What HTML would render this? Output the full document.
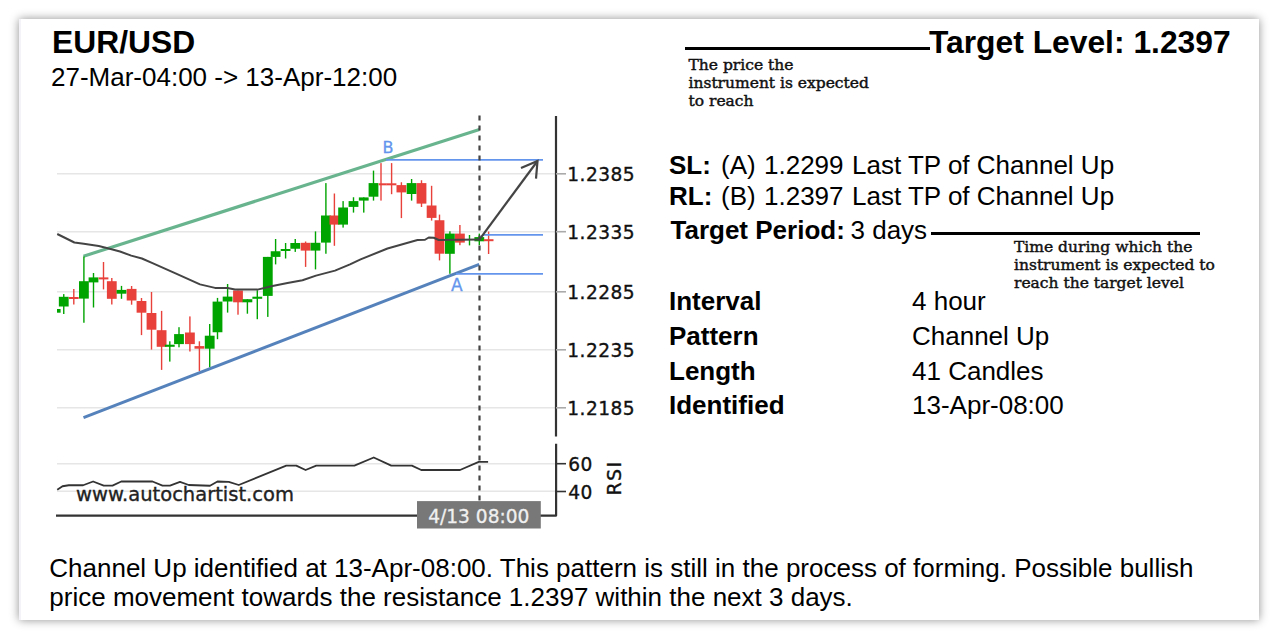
<!DOCTYPE html>
<html><head><meta charset="utf-8"><title>EUR/USD Channel Up</title>
<style>
html,body{margin:0;padding:0;background:#fff;}
body{width:1278px;height:639px;position:relative;overflow:hidden;font-family:"Liberation Sans",Arial,sans-serif;color:#000;}
.card{position:absolute;left:19px;top:19px;width:1240px;height:601px;background:#fff;box-shadow:0 0 9px rgba(0,0,0,0.44);border-left:2px solid #f3f3f8;box-sizing:border-box;}
.t{position:absolute;white-space:nowrap;line-height:1;}
.chart{position:absolute;left:0;top:0;}
.b{font-weight:bold;}
.note{position:absolute;white-space:nowrap;font-family:"DejaVu Serif",serif;font-size:15.5px;line-height:18px;color:#111;-webkit-text-stroke:0.45px #111;}
.hl{position:absolute;background:#000;height:3px;}
</style></head><body>
<div class="card"></div>
<svg class="chart" width="1278" height="639" viewBox="0 0 1278 639">
<g shape-rendering="auto">
<line x1="57" y1="173.8" x2="556" y2="173.8" stroke="#e6e6e6" stroke-width="1.6"/><line x1="57" y1="231.7" x2="556" y2="231.7" stroke="#e6e6e6" stroke-width="1.6"/><line x1="57" y1="291.8" x2="556" y2="291.8" stroke="#e6e6e6" stroke-width="1.6"/><line x1="57" y1="349.8" x2="556" y2="349.8" stroke="#e6e6e6" stroke-width="1.6"/><line x1="57" y1="407.8" x2="556" y2="407.8" stroke="#e6e6e6" stroke-width="1.6"/>
<line x1="57" y1="463.7" x2="556" y2="463.7" stroke="#e6e6e6" stroke-width="1.6"/>
<line x1="57" y1="491.3" x2="556" y2="491.3" stroke="#e6e6e6" stroke-width="1.6"/>
<line x1="83.5" y1="256.2" x2="479.4" y2="129.5" stroke="#68b48e" stroke-width="3.2"/>
<rect x="63.05" y="294.1" width="1.4" height="19.9" fill="#00a400"/><rect x="73.1" y="289" width="1.4" height="15.5" fill="#e8403a"/><rect x="83.2" y="256.4" width="1.4" height="66.35" fill="#00a400"/><rect x="92.8" y="273" width="1.4" height="34.5" fill="#00a400"/><rect x="102.8" y="262" width="1.4" height="27.4" fill="#e8403a"/><rect x="111.1" y="278" width="1.4" height="26.5" fill="#e8403a"/><rect x="120.8" y="285.9" width="1.4" height="12.9" fill="#00a400"/><rect x="130.9" y="286" width="1.4" height="18.7" fill="#e8403a"/><rect x="140.8" y="298" width="1.4" height="37.1" fill="#e8403a"/><rect x="150.8" y="292" width="1.4" height="57.6" fill="#e8403a"/><rect x="160.9" y="310.9" width="1.4" height="59" fill="#e8403a"/><rect x="169.1" y="341.3" width="1.4" height="20.3" fill="#00a400"/><rect x="178.3" y="327.2" width="1.4" height="20.1" fill="#00a400"/><rect x="189.2" y="316.4" width="1.4" height="35.1" fill="#e8403a"/><rect x="198.7" y="341.3" width="1.4" height="29.7" fill="#e8403a"/><rect x="209" y="324" width="1.4" height="43.4" fill="#00a400"/><rect x="216.8" y="297.9" width="1.4" height="41.3" fill="#00a400"/><rect x="226.9" y="284" width="1.4" height="28.6" fill="#00a400"/><rect x="237.3" y="290.5" width="1.4" height="24.2" fill="#e8403a"/><rect x="246.7" y="299.2" width="1.4" height="14.5" fill="#00a400"/><rect x="256.6" y="290.2" width="1.4" height="29" fill="#00a400"/><rect x="267.1" y="256.9" width="1.4" height="60" fill="#00a400"/><rect x="274.9" y="239" width="1.4" height="25.4" fill="#00a400"/><rect x="284.9" y="243" width="1.4" height="15.5" fill="#00a400"/><rect x="294.55" y="239" width="1.4" height="12.9" fill="#00a400"/><rect x="304.9" y="241.5" width="1.4" height="25.4" fill="#e8403a"/><rect x="314.8" y="231.4" width="1.4" height="38" fill="#00a400"/><rect x="325.2" y="183.1" width="1.4" height="70.65" fill="#00a400"/><rect x="333.7" y="193.5" width="1.4" height="52.3" fill="#e8403a"/><rect x="342.4" y="201.1" width="1.4" height="26.5" fill="#00a400"/><rect x="352.8" y="197.25" width="1.4" height="15.35" fill="#00a400"/><rect x="363.05" y="197.4" width="1.4" height="15.2" fill="#00a400"/><rect x="372.8" y="170.6" width="1.4" height="30" fill="#00a400"/><rect x="380.3" y="163.1" width="1.4" height="37.5" fill="#e8403a"/><rect x="390.9" y="163.1" width="1.4" height="31.1" fill="#e8403a"/><rect x="400.7" y="182.25" width="1.4" height="35.85" fill="#e8403a"/><rect x="410.9" y="179" width="1.4" height="21.6" fill="#00a400"/><rect x="420.8" y="180.25" width="1.4" height="26.75" fill="#e8403a"/><rect x="430.9" y="185.8" width="1.4" height="34.8" fill="#e8403a"/><rect x="438.8" y="214.6" width="1.4" height="45.8" fill="#e8403a"/><rect x="449.2" y="231.3" width="1.4" height="42.5" fill="#00a400"/><rect x="459.2" y="225" width="1.4" height="20.2" fill="#e8403a"/><rect x="468.8" y="235" width="1.4" height="10.4" fill="#00a400"/><rect x="478.6" y="233.6" width="1.4" height="11.5" fill="#00a400"/><rect x="487.9" y="231.5" width="1.4" height="22.5" fill="#e8403a"/>
<rect x="57" y="309" width="3.6" height="3.7" fill="#00a400"/><rect x="58.85" y="296.8" width="9.8" height="9.7" fill="#00a400"/><rect x="68.9" y="297" width="9.8" height="2" fill="#e8403a"/><rect x="79" y="281.2" width="9.8" height="17.4" fill="#00a400"/><rect x="88.6" y="277.4" width="9.8" height="5" fill="#00a400"/><rect x="98.6" y="277.4" width="9.8" height="2" fill="#e8403a"/><rect x="106.9" y="281.2" width="9.8" height="17.6" fill="#e8403a"/><rect x="116.6" y="289.9" width="9.8" height="3.8" fill="#00a400"/><rect x="126.7" y="288.9" width="9.8" height="11.6" fill="#e8403a"/><rect x="136.6" y="301" width="9.8" height="11.7" fill="#e8403a"/><rect x="146.6" y="313" width="9.8" height="16.7" fill="#e8403a"/><rect x="156.7" y="330.2" width="9.8" height="16.6" fill="#e8403a"/><rect x="164.9" y="344.7" width="9.8" height="2.1" fill="#00a400"/><rect x="174.1" y="334.1" width="9.8" height="10" fill="#00a400"/><rect x="185" y="332.5" width="9.8" height="11.6" fill="#e8403a"/><rect x="194.5" y="346.1" width="9.8" height="2.6" fill="#e8403a"/><rect x="204.8" y="335.7" width="9.8" height="13" fill="#00a400"/><rect x="212.6" y="301.6" width="9.8" height="30.65" fill="#00a400"/><rect x="222.7" y="296.6" width="9.8" height="4.9" fill="#00a400"/><rect x="233.1" y="290.5" width="9.8" height="11.8" fill="#e8403a"/><rect x="242.5" y="299.2" width="9.8" height="3.1" fill="#00a400"/><rect x="252.4" y="296.7" width="9.8" height="2.1" fill="#00a400"/><rect x="262.9" y="256.9" width="9.8" height="39" fill="#00a400"/><rect x="270.7" y="251.25" width="9.8" height="5.65" fill="#00a400"/><rect x="280.7" y="249" width="9.8" height="2" fill="#00a400"/><rect x="290.35" y="243" width="9.8" height="5.75" fill="#00a400"/><rect x="300.7" y="242.8" width="9.8" height="7.8" fill="#e8403a"/><rect x="310.6" y="242.8" width="9.8" height="7.8" fill="#00a400"/><rect x="321" y="215.5" width="9.8" height="27.1" fill="#00a400"/><rect x="329.5" y="215.5" width="9.8" height="9.1" fill="#e8403a"/><rect x="338.2" y="207.5" width="9.8" height="17.1" fill="#00a400"/><rect x="348.6" y="201.1" width="9.8" height="5.8" fill="#00a400"/><rect x="358.85" y="197.4" width="9.8" height="3.2" fill="#00a400"/><rect x="368.6" y="183.1" width="9.8" height="13.6" fill="#00a400"/><rect x="378.7" y="183.3" width="8" height="2" fill="#e8403a"/><rect x="386.5" y="183.3" width="9.9" height="2" fill="#e8403a"/><rect x="396.5" y="185.1" width="9.8" height="7.3" fill="#e8403a"/><rect x="406.7" y="183.1" width="9.8" height="10.9" fill="#00a400"/><rect x="416.6" y="183.1" width="9.8" height="20.5" fill="#e8403a"/><rect x="426.7" y="205.5" width="9.8" height="12.4" fill="#e8403a"/><rect x="434.6" y="220.25" width="9.8" height="33.45" fill="#e8403a"/><rect x="445" y="233.6" width="9.8" height="20.2" fill="#00a400"/><rect x="455" y="233.6" width="9.8" height="9" fill="#e8403a"/><rect x="474.4" y="237.1" width="9.8" height="4.2" fill="#00a400"/><rect x="483.7" y="239.2" width="9.8" height="2" fill="#e8403a"/>
<polyline points="57.25,234 74.4,242.5 83.75,243.75 98.75,246 108.75,248.5 120,251.5 131.25,255.6 141.9,258.5 152.5,263.1 175,273.1 200,284.4 215,287.9 227.5,287.9 235,289.6 257.5,289.6 272.5,286 287.5,283 302.5,280.25 316,275.6 335,270.6 350,264.4 360.6,259.4 387.5,248.5 417.5,240 425,239.75 428.75,237.5 433.75,237.75 438.75,240 480,239.6" fill="none" stroke="#444" stroke-width="2" stroke-linejoin="round"/>
<line x1="83.5" y1="417.6" x2="479.2" y2="264.4" stroke="#5682bc" stroke-width="3"/>
<line x1="386" y1="159.9" x2="543" y2="159.9" stroke="#6495ed" stroke-width="1.8"/>
<line x1="483" y1="234.9" x2="543" y2="234.9" stroke="#6495ed" stroke-width="1.8"/>
<line x1="456" y1="273.9" x2="543" y2="273.9" stroke="#6495ed" stroke-width="1.8"/>
<line x1="479.5" y1="115.6" x2="479.5" y2="501" stroke="#444" stroke-width="2.2" stroke-dasharray="4.8 5.2"/>
<polyline points="479.4,239.6 537.5,161" fill="none" stroke="#444" stroke-width="2.2"/>
<polyline points="521,168.1 537.5,161 536,178.7" fill="none" stroke="#444" stroke-width="2.2" stroke-linejoin="miter"/>
<polyline points="57.25,489.75 62.5,486.25 68.75,485.25 83.1,485.25 93.1,481.5 103.75,485.6 112.5,485.6 121.25,481.5 152.5,481.5 162.5,485.6 170,485.6 180,481.9 188.75,485 210,485.75 217.5,481.5 228.75,481.9 238.75,485 286.25,465.6 296.25,465.6 305.6,470 316.25,465.6 354.4,465.6 373.75,457.5 391.25,465.6 411.9,465.6 421.25,470 460,470 478.75,461.9 488.1,461.9" fill="none" stroke="#333" stroke-width="1.8" stroke-linejoin="round"/>
<line x1="556" y1="116" x2="556" y2="436.5" stroke="#333" stroke-width="2.2"/>
<polyline points="556.1,443.8 556.1,515.6 56,515.6" fill="none" stroke="#333" stroke-width="2.2" stroke-linejoin="round"/>
<line x1="556" y1="173.8" x2="566" y2="173.8" stroke="#aaaaaa" stroke-width="1.6"/><line x1="556" y1="231.7" x2="566" y2="231.7" stroke="#aaaaaa" stroke-width="1.6"/><line x1="556" y1="291.8" x2="566" y2="291.8" stroke="#aaaaaa" stroke-width="1.6"/><line x1="556" y1="349.8" x2="566" y2="349.8" stroke="#aaaaaa" stroke-width="1.6"/><line x1="556" y1="407.8" x2="566" y2="407.8" stroke="#aaaaaa" stroke-width="1.6"/>
<line x1="556.1" y1="463.7" x2="566" y2="463.7" stroke="#333" stroke-width="1.6"/>
<line x1="556.1" y1="491.5" x2="566" y2="491.5" stroke="#333" stroke-width="1.6"/>
<rect x="417" y="501.1" width="123.8" height="27.4" fill="#787878"/>
</g>
<g font-family="DejaVu Sans, sans-serif" fill="#111" stroke="#111" stroke-width="0.35">
<g font-size="18.6" letter-spacing="0.45"><text x="567.3" y="180.8">1.2385</text><text x="567.3" y="238.7">1.2335</text><text x="567.3" y="298.8">1.2285</text><text x="567.3" y="356.8">1.2235</text><text x="567.3" y="414.8">1.2185</text></g>
<text x="568.3" y="471.3" font-size="18.6" letter-spacing="0.4">60</text>
<text x="568.3" y="498.8" font-size="18.6" letter-spacing="0.4">40</text>
<text transform="translate(621,495.5) rotate(-90)" font-size="19" letter-spacing="1.4">RSI</text>
<text x="76" y="501" font-size="19.5" fill="#222" stroke="#222">www.autochartist.com</text>
<text x="428.2" y="523.1" font-size="18.6" fill="#f0f0f0" stroke="#f0f0f0" stroke-width="0.3">4/13 08:00</text>
<text x="382.5" y="153" font-size="16" fill="#6495ed" stroke="#6495ed" stroke-width="0.3">B</text>
<text x="451" y="290.7" font-size="17" fill="#6495ed" stroke="#6495ed" stroke-width="0.3">A</text>
</g>
</svg>
<div class="t b" id="sym" style="left:52px;top:27.1px;font-size:31.8px;">EUR/USD</div>
<div class="t" id="range" style="left:51px;top:63.5px;font-size:26px;">27-Mar-04:00 -&gt; 13-Apr-12:00</div>
<div class="hl" style="left:685px;top:47px;width:245px;"></div>
<div class="t b" id="tl" style="left:929px;top:26.5px;font-size:31.8px;">Target Level: 1.2397</div>
<div class="note" id="n1" style="left:688.5px;top:55.8px;">The price the<br>instrument is expected<br>to reach</div>
<div class="t b" style="left:669px;top:152px;font-size:26px;">SL:</div>
<div class="t" style="left:721px;top:152px;font-size:26px;">(A)</div>
<div class="t" style="left:764px;top:152px;font-size:26px;">1.2299</div>
<div class="t" style="left:852px;top:152px;font-size:26px;">Last TP of Channel Up</div>
<div class="t b" style="left:669px;top:182.7px;font-size:26px;">RL:</div>
<div class="t" style="left:721px;top:182.7px;font-size:26px;">(B)</div>
<div class="t" style="left:764px;top:182.7px;font-size:26px;">1.2397</div>
<div class="t" style="left:852px;top:182.7px;font-size:26px;">Last TP of Channel Up</div>
<div class="t b" style="left:670.5px;top:217.4px;font-size:26px;">Target Period:</div>
<div class="t" style="left:850.5px;top:217.4px;font-size:26px;">3 days</div>
<div class="hl" style="left:931px;top:232px;width:269px;"></div>
<div class="note" id="n2" style="left:1014px;top:238px;">Time during which the<br>instrument is expected to<br>reach the target level</div>
<div class="t b" style="left:669px;top:287.9px;font-size:26px;">Interval</div>
<div class="t" style="left:912px;top:287.9px;font-size:26px;">4 hour</div>
<div class="t b" style="left:669px;top:322.6px;font-size:26px;">Pattern</div>
<div class="t" style="left:912px;top:322.6px;font-size:26px;">Channel Up</div>
<div class="t b" style="left:669px;top:357.7px;font-size:26px;">Length</div>
<div class="t" style="left:912px;top:357.7px;font-size:26px;">41 Candles</div>
<div class="t b" style="left:669px;top:392.3px;font-size:26px;">Identified</div>
<div class="t" style="left:912px;top:392.3px;font-size:26px;">13-Apr-08:00</div>
<div class="t" id="p1" style="left:49.3px;top:555px;font-size:26px;">Channel Up identified at 13-Apr-08:00. This pattern is still in the process of forming. Possible bullish</div>
<div class="t" id="p2" style="left:49.3px;top:584.3px;font-size:26px;">price movement towards the resistance 1.2397 within the next 3 days.</div>
</body></html>
